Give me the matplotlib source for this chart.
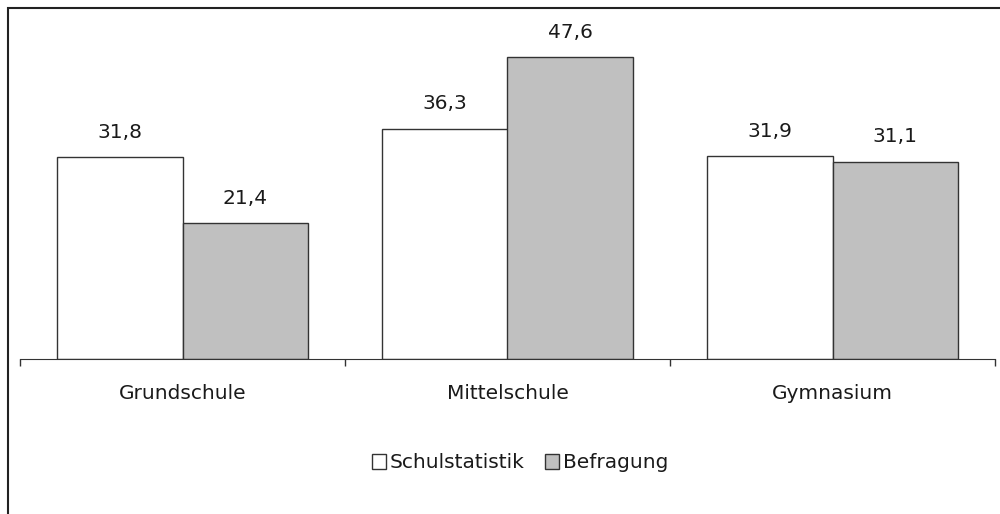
import matplotlib.pyplot as plt
import numpy as np
from matplotlib.patches import Rectangle

categories = ['Grundschule', 'Mittelschule', 'Gymnasium']
schulstatistik = [31.8, 36.3, 31.9]
befragung = [21.4, 47.6, 31.1]
series_names = ['Schulstatistik', 'Befragung']

plt.rcParams['font.family'] = ['DejaVu Sans']
plt.rcParams['text.color'] = '#1a1a1a'

fig = plt.figure(figsize=(10, 5.14), dpi=100)
ax = fig.add_axes([0.02, (514 - 359) / 514, 0.975, 339 / 514])

x = np.arange(len(categories))
w = 0.385
b1 = ax.bar(x - w / 2, schulstatistik, w, color='white', edgecolor='#333333',
            linewidth=1, label=series_names[0])
b2 = ax.bar(x + w / 2, befragung, w, color='#c0c0c0', edgecolor='#333333',
            linewidth=1, label=series_names[1])

for bars, vals in [(b1, schulstatistik), (b2, befragung)]:
    for rect, v in zip(bars, vals):
        ax.text(rect.get_x() + rect.get_width() / 2, v + 2.4,
                f'{v:.1f}'.replace('.', ','), ha='center', va='bottom', fontsize=14.5)

for i, c in enumerate(categories):
    ax.text(i, -5.4, c, ha='center', va='center', fontsize=14.5)

ax.set_xlim(-0.5, 2.5)
ax.set_ylim(0, 53.4)
ax.set_xticks([-0.5, 0.5, 1.5, 2.5])
ax.set_xticklabels([])
ax.set_yticks([])
ax.tick_params(axis='x', direction='out', length=5, width=1, color='#333333')
for s in ['top', 'right', 'left']:
    ax.spines[s].set_visible(False)
ax.spines['bottom'].set_color('#333333')

leg = fig.legend(handles=[b1, b2], labels=series_names, loc='center',
                 bbox_to_anchor=(0.52, 1 - 463 / 514), ncol=2, frameon=False,
                 fontsize=14.5, handlelength=0.7, handleheight=0.7,
                 handletextpad=0.2, columnspacing=1.0)

fig.patches.append(Rectangle((0.008, -0.05), 1.1, 1 - 8 / 514 + 0.05,
                             transform=fig.transFigure, fill=False,
                             edgecolor='#222222', linewidth=1.5))

plt.savefig('out.png', dpi=100)
